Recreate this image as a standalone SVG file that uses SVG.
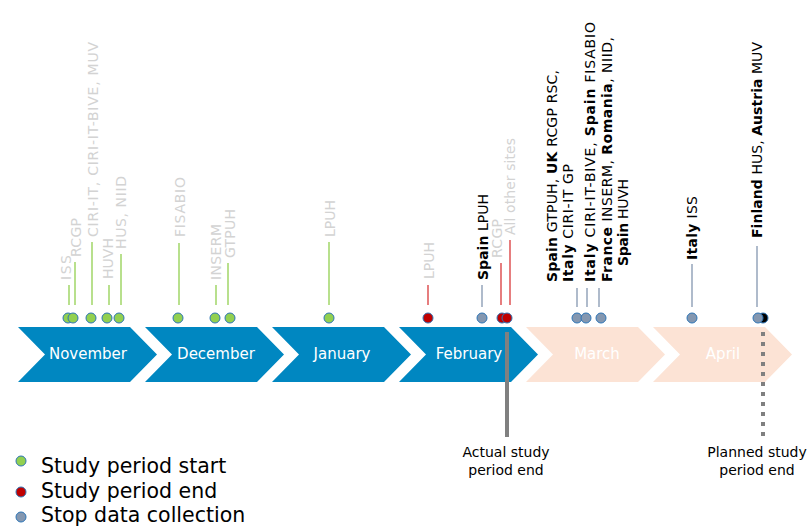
<svg xmlns="http://www.w3.org/2000/svg" width="808" height="526" viewBox="0 0 808 526">
<style>
text{font-family:"DejaVu Sans",Verdana,sans-serif}
.month{font-size:15px;fill:#fff;text-anchor:middle}
.lbl{font-size:14px}
.g{fill:#D3D3D3}
.k{fill:#000}
.b{font-weight:bold}
.blue{fill:#0087C1}
.peach{fill:#FCE3D5}
.ds{fill:#92D050;stroke:#2E75B6;stroke-width:1}
.de{fill:#C00000;stroke:#2E75B6;stroke-width:1}
.dc{fill:#8497B0;stroke:#2E75B6;stroke-width:1}
.lg{stroke:#92D050;stroke-width:1.3}
.lr{stroke:#D9383A;stroke-width:1.3}
.lc{stroke:#8497B0;stroke-width:1.3}
.legend{font-size:20.5px;fill:#000}
.note{font-size:14px;fill:#000;text-anchor:middle}
</style>
<defs>
<polygon id="chev" points="0,327 112,327 139,354.5 112,382 0,382 27,354.5"/>
</defs>
<g id="months">
<g id="nov"><use href="#chev" x="18" class="blue"/><text class="month" x="88" y="359">November</text></g>
<g id="dec"><use href="#chev" x="145" class="blue"/><text class="month" x="216" y="359">December</text></g>
<g id="jan"><use href="#chev" x="272" class="blue"/><text class="month" x="342" y="359">January</text></g>
<g id="feb"><use href="#chev" x="399" class="blue"/><text class="month" x="469" y="359">February</text></g>
<g id="mar"><use href="#chev" x="526" class="peach"/><text class="month" x="597" y="359">March</text></g>
<g id="apr"><use href="#chev" x="653" class="peach"/><text class="month" x="723" y="359">April</text></g>
</g>
<g id="connectors">
<line class="lg" x1="69" y1="285" x2="69" y2="305"/>
<line class="lg" x1="75" y1="262" x2="75" y2="305"/>
<line class="lg" x1="92" y1="242" x2="92" y2="305"/>
<line class="lg" x1="109" y1="285" x2="109" y2="305"/>
<line class="lg" x1="121" y1="254" x2="121" y2="305"/>
<line class="lg" x1="179" y1="243" x2="179" y2="305"/>
<line class="lg" x1="216" y1="285" x2="216" y2="305"/>
<line class="lg" x1="228" y1="263" x2="228" y2="305"/>
<line class="lg" x1="329" y1="242" x2="329" y2="305"/>
<line class="lr" x1="428" y1="285" x2="428" y2="305"/>
<line class="lc" x1="482" y1="285" x2="482" y2="307"/>
<line class="lr" x1="501" y1="263" x2="501" y2="305"/>
<line class="lr" x1="510" y1="240" x2="510" y2="305"/>
<line class="lc" x1="577" y1="288" x2="577" y2="307"/>
<line class="lc" x1="587" y1="288" x2="587" y2="307"/>
<line class="lc" x1="599" y1="288" x2="599" y2="307"/>
<line class="lc" x1="692" y1="264" x2="692" y2="307"/>
<line class="lc" x1="757" y1="246" x2="757" y2="307"/>
<line x1="507" y1="332" x2="507" y2="437" stroke="#808080" stroke-width="4"/>
<line x1="763" y1="332" x2="763" y2="437" stroke="#808080" stroke-width="4" stroke-dasharray="4,6"/>
</g>
<g id="dots">
<circle class="ds" cx="68" cy="318" r="5"/>
<circle class="ds" cx="73" cy="318" r="5"/>
<circle class="ds" cx="91" cy="318" r="5"/>
<circle class="ds" cx="107" cy="318" r="5"/>
<circle class="ds" cx="119" cy="318" r="5"/>
<circle class="ds" cx="178" cy="318" r="5"/>
<circle class="ds" cx="215" cy="318" r="5"/>
<circle class="ds" cx="230" cy="318" r="5"/>
<circle class="ds" cx="329" cy="318" r="5"/>
<circle class="de" cx="428" cy="318" r="5"/>
<circle class="dc" cx="482" cy="318" r="5"/>
<circle class="de" cx="502" cy="318" r="5"/>
<circle class="de" cx="507" cy="318" r="5"/>
<circle class="dc" cx="577" cy="318" r="5"/>
<circle class="dc" cx="586" cy="318" r="5"/>
<circle class="dc" cx="601" cy="318" r="5"/>
<circle class="dc" cx="692" cy="318" r="5"/>
<circle cx="763" cy="318" r="5" fill="#000" stroke="#2E75B6"/>
<circle class="dc" cx="758" cy="318" r="5"/>
</g>
<g id="labels" class="lbl">
<text class="g" transform="translate(71,280) rotate(-90)" textLength="25" lengthAdjust="spacing">ISS</text>
<text class="g" transform="translate(81,257) rotate(-90)" textLength="39" lengthAdjust="spacing">RCGP</text>
<text class="g" transform="translate(98,237) rotate(-90)" textLength="195" lengthAdjust="spacing">CIRI-IT, CIRI-IT-BIVE, MUV</text>
<text class="g" transform="translate(113,279) rotate(-90)" textLength="41" lengthAdjust="spacing">HUVH</text>
<text class="g" transform="translate(126,249) rotate(-90)" textLength="73" lengthAdjust="spacing">HUS, NIID</text>
<text class="g" transform="translate(185,237) rotate(-90)" textLength="60" lengthAdjust="spacing">FISABIO</text>
<text class="g" transform="translate(221,280) rotate(-90)" textLength="56" lengthAdjust="spacing">INSERM</text>
<text class="g" transform="translate(235,258) rotate(-90)" textLength="49" lengthAdjust="spacing">GTPUH</text>
<text class="g" transform="translate(335,237) rotate(-90)" textLength="37" lengthAdjust="spacing">LPUH</text>
<text class="g" transform="translate(434,279) rotate(-90)" textLength="37" lengthAdjust="spacing">LPUH</text>
<text class="k" transform="translate(488,280) rotate(-90)" textLength="86" lengthAdjust="spacing"><tspan class="b">Spain</tspan> LPUH</text>
<text class="g" transform="translate(502,258) rotate(-90)" textLength="39" lengthAdjust="spacing">RCGP</text>
<text class="g" transform="translate(515,235) rotate(-90)" textLength="97" lengthAdjust="spacing">All other sites</text>
<text class="k" transform="translate(557,282) rotate(-90)" textLength="212" lengthAdjust="spacing"><tspan class="b">Spain</tspan> GTPUH, <tspan class="b">UK</tspan> RCGP RSC,</text>
<text class="k" transform="translate(573,282) rotate(-90)" textLength="118" lengthAdjust="spacing"><tspan class="b">Italy</tspan> CIRI-IT GP</text>
<text class="k" transform="translate(595,282) rotate(-90)" textLength="260" lengthAdjust="spacing"><tspan class="b">Italy</tspan> CIRI-IT-BIVE, <tspan class="b">Spain</tspan> FISABIO</text>
<text class="k" transform="translate(612,282) rotate(-90)" textLength="245" lengthAdjust="spacing"><tspan class="b">France</tspan> INSERM, <tspan class="b">Romania</tspan>, NIID,</text>
<text class="k" transform="translate(628,266) rotate(-90)" textLength="87" lengthAdjust="spacing"><tspan class="b">Spain</tspan> HUVH</text>
<text class="k" transform="translate(697,260) rotate(-90)" textLength="64" lengthAdjust="spacing"><tspan class="b">Italy</tspan> ISS</text>
<text class="k" transform="translate(762,238) rotate(-90)" textLength="196" lengthAdjust="spacing"><tspan class="b">Finland</tspan> HUS, <tspan class="b">Austria</tspan> MUV</text>
</g>
<g id="notes">
<text class="note" x="506" y="457">Actual study</text>
<text class="note" x="506" y="475">period end</text>
<text class="note" x="757" y="457">Planned study</text>
<text class="note" x="757" y="475">period end</text>
</g>
<g id="legend">
<circle class="ds" cx="21" cy="461" r="5"/>
<text class="legend" x="41" y="473">Study period start</text>
<circle class="de" cx="21" cy="492" r="5"/>
<text class="legend" x="41" y="498">Study period end</text>
<circle class="dc" cx="21" cy="517" r="5"/>
<text class="legend" x="41" y="522">Stop data collection</text>
</g>
</svg>
